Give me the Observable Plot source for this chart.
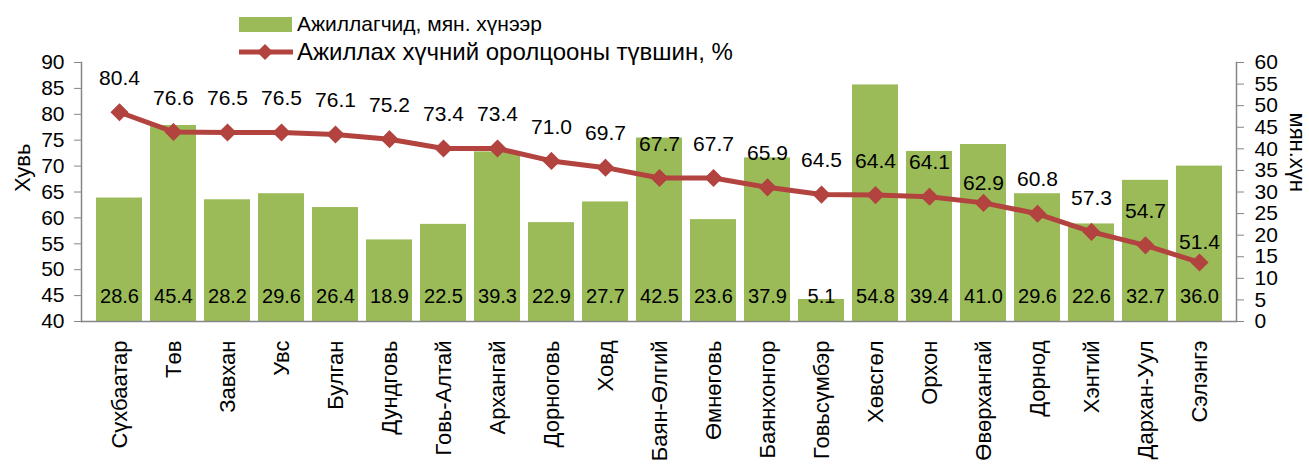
<!DOCTYPE html>
<html>
<head>
<meta charset="utf-8">
<script src="https://cdn.jsdelivr.net/npm/d3@7"></script>
<script src="https://cdn.jsdelivr.net/npm/@observablehq/plot@0.6"></script>
<style>
  html, body { margin: 0; padding: 0; background: #fff; }
  #wrap { position: relative; width: 1309px; height: 472px; overflow: hidden; font-family: "Liberation Sans", Arial, sans-serif; }
  #legend { position: absolute; left: 239px; top: 10px; color: #000; }
  .item { display: flex; align-items: center; height: 28px; white-space: nowrap; }
  .item svg { margin-right: 4px; flex: none; }
  .l1 { font-size: 21px; }
  .l2 { font-size: 24px; }
</style>
</head>
<body>
<div id="wrap">
  <div id="chart"></div>
  <div id="legend"></div>
</div>
<script>
const regions = ["Сүхбаатар","Төв","Завхан","Увс","Булган","Дундговь","Говь-Алтай","Архангай","Дорноговь","Ховд","Баян-Өлгий","Өмнөговь","Баянхонгор","Говьсүмбэр","Хөвсгөл","Орхон","Өвөрхангай","Дорнод","Хэнтий","Дархан-Уул","Сэлэнгэ"];
const participationRate = [80.4,76.6,76.5,76.5,76.1,75.2,73.4,73.4,71.0,69.7,67.7,67.7,65.9,64.5,64.4,64.1,62.9,60.8,57.3,54.7,51.4];
const employedThousands = [28.6,45.4,28.2,29.6,26.4,18.9,22.5,39.3,22.9,27.7,42.5,23.6,37.9,5.1,54.8,39.4,41.0,29.6,22.6,32.7,36.0];
const leftTicks = [40,45,50,55,60,65,70,75,80,85,90];
const rightTicks = [0,5,10,15,20,25,30,35,40,45,50,55,60];
const seriesNames = ["Ажиллагчид, мян. хүнээр", "Ажиллах хүчний оролцооны түвшин, %"];
const leftTitle = "Хувь";
const rightTitle = "мян.хүн";
// regions whose rate label sits closer to its marker in the original
const closeLabelRegions = ["Өвөрхангай", "Сэлэнгэ"];

const barColor = "#9BBB59";
const lineColor = "#B2433F";
const axisColor = "#868686";
const font = "Liberation Sans, Arial, sans-serif";

// map right-axis (thousand persons, 0..60) onto the left-axis scale (40..90)
const leftDomain = [leftTicks[0], leftTicks[leftTicks.length - 1]];
const rightDomain = [rightTicks[0], rightTicks[rightTicks.length - 1]];
const toLeft = v => leftDomain[0] + (v - rightDomain[0]) * (leftDomain[1] - leftDomain[0]) / (rightDomain[1] - rightDomain[0]);
const toRight = v => rightDomain[0] + (v - leftDomain[0]) * (rightDomain[1] - rightDomain[0]) / (leftDomain[1] - leftDomain[0]);

const data = regions.map((r, i) => ({region: r, rate: participationRate[i], employed: employedThousands[i]}));
const isClose = d => closeLabelRegions.includes(d.region);

const chart = Plot.plot({
  width: 1309,
  height: 472,
  marginLeft: 81,
  marginRight: 73,
  marginTop: 62,
  marginBottom: 151,
  style: {fontFamily: font, fontSize: "20px", color: "#000", background: "#fff"},
  x: {domain: regions, padding: 0.15, label: null},
  y: {domain: leftDomain, label: null},
  marks: [
    Plot.barY(data, {x: "region", y1: leftDomain[0], y2: d => toLeft(d.employed), fill: barColor}),
    Plot.ruleY([leftDomain[0]], {stroke: axisColor, strokeWidth: 1.5}),
    Plot.frame({anchor: "left", stroke: axisColor, strokeWidth: 1.5}),
    Plot.frame({anchor: "right", stroke: axisColor, strokeWidth: 1.5}),
    Plot.axisY({ticks: leftTicks, anchor: "left", tickSize: 7, tickPadding: 10, stroke: axisColor, fontSize: 21, label: null, tickFormat: d => String(d)}),
    Plot.axisY({ticks: rightTicks.map(toLeft), anchor: "right", tickSize: 7, tickPadding: 11, stroke: axisColor, fontSize: 21, label: null, tickFormat: d => String(Math.round(toRight(d)))}),
    Plot.axisX({anchor: "bottom", tickSize: 0, tickPadding: 19, tickRotate: -90, fontSize: 22, label: null}),
    Plot.text(data, {x: "region", y: leftDomain[0], text: d => d.employed.toFixed(1), dy: -25, fontSize: 20, fill: "#000"}),
    Plot.line(data, {x: "region", y: "rate", stroke: lineColor, strokeWidth: 5}),
    Plot.dot(data, {x: "region", y: "rate", symbol: "diamond2", r: 7.2, fill: lineColor, stroke: lineColor}),
    Plot.text(data, {filter: d => !isClose(d), x: "region", y: "rate", text: d => d.rate.toFixed(1), dy: -34, fontSize: 21, fill: "#000"}),
    Plot.text(data, {filter: isClose, x: "region", y: "rate", text: d => d.rate.toFixed(1), dy: -20, fontSize: 21, fill: "#000"}),
    Plot.text([leftTitle], {frameAnchor: "left", dx: -59, rotate: -90, fontSize: 22, text: d => d}),
    Plot.text([rightTitle], {frameAnchor: "right", dx: 61, rotate: 90, fontSize: 22, text: d => d})
  ]
});
document.getElementById("chart").appendChild(chart);

const legend = document.getElementById("legend");
legend.innerHTML = `
  <div class="item l1"><svg width="54" height="20"><rect x="0" y="3" width="53" height="15" fill="${barColor}"/></svg><span>${seriesNames[0]}</span></div>
  <div class="item l2"><svg width="54" height="20"><line x1="0" y1="10" x2="54" y2="10" stroke="${lineColor}" stroke-width="5"/><path d="M26 2 L34 10 L26 18 L18 10 Z" fill="${lineColor}"/></svg><span>${seriesNames[1]}</span></div>
`;
</script>
</body>
</html>
